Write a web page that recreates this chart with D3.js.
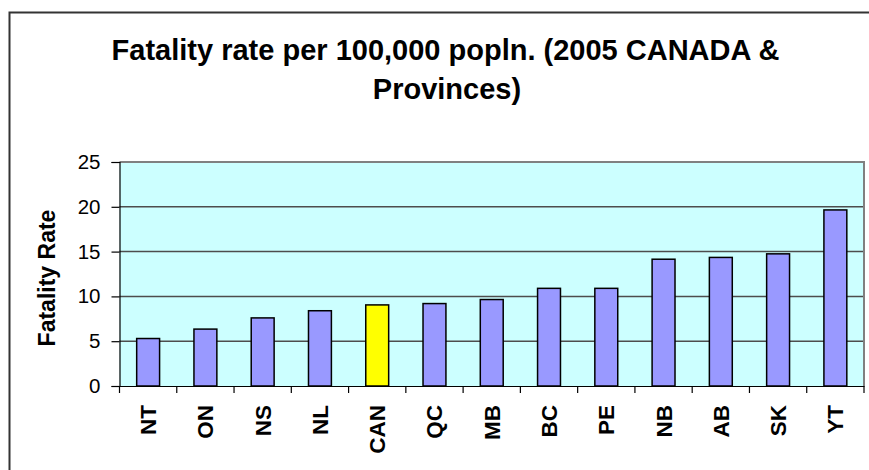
<!DOCTYPE html>
<html><head><meta charset="utf-8">
<script src="https://cdn.jsdelivr.net/npm/d3@7"></script>
<style>body{margin:0;background:#fff}svg{display:block}</style>
</head><body>
<svg id="c" width="869" height="470"></svg>
<script>
const categories = ["NT","ON","NS","NL","CAN","QC","MB","BC","PE","NB","AB","SK","YT"];
const values = [5.3, 6.35, 7.6, 8.4, 9.05, 9.2, 9.65, 10.9, 10.9, 14.15, 14.35, 14.75, 19.65];
const highlight = ["CAN"];
const yTicks = [0, 5, 10, 15, 20, 25];
const titleLines = ["Fatality rate per 100,000 popln. (2005 CANADA &", "Provinces)"];
const yTitle = "Fatality Rate";

const svg = d3.select("#c");
const font = "'Liberation Sans', Arial, sans-serif";
const L = 119.5, R = 864, T = 162, B = 386;

// outer chart border
svg.append("rect").attr("x", 9.5).attr("y", 12.5).attr("width", 900).attr("height", 500)
  .attr("fill", "#fff").attr("stroke", "#333").attr("stroke-width", 2);

const x = d3.scaleBand().domain(categories).range([L, R]).paddingInner(0.6).paddingOuter(0.3);
const xb = d3.scaleBand().domain(categories).range([L, R]);
const y = d3.scaleLinear().domain([0, 25]).range([B, T]);

// plot background
svg.append("rect").attr("x", L).attr("y", T).attr("width", R - L).attr("height", B - T).attr("fill", "#CCFFFF");

// gridlines
svg.append("g").selectAll("line").data(yTicks.filter(d => d > 0 && d < 25)).join("line")
  .attr("x1", L).attr("x2", R).attr("y1", d => y(d)).attr("y2", d => y(d))
  .attr("stroke", "#4d4d4d").attr("stroke-width", 1.5);

// plot border top/right
svg.append("path").attr("d", `M${L},${T}H${R}V${B}`).attr("fill", "none").attr("stroke", "#808080").attr("stroke-width", 2);

// bars
svg.append("g").selectAll("rect").data(categories).join("rect")
  .attr("x", d => x(d)).attr("width", x.bandwidth())
  .attr("y", (d, i) => y(values[i])).attr("height", (d, i) => B - y(values[i]))
  .attr("fill", d => highlight.includes(d) ? "#FFFF00" : "#9999FF")
  .attr("stroke", "#000").attr("stroke-width", 1.5);

// y axis
const ya = svg.append("g").attr("transform", `translate(${L},0)`)
  .call(d3.axisLeft(y).tickValues(yTicks).tickSize(8).tickPadding(11).tickFormat(d3.format("d")));
ya.select(".domain").attr("stroke", "#000").attr("stroke-width", 1.2);
ya.selectAll(".tick line").attr("stroke", "#000").attr("stroke-width", 1.2);
ya.selectAll("text").attr("font-family", font).attr("font-size", 20.5).attr("fill", "#000");

// x axis
const xa = svg.append("g").attr("transform", `translate(0,${B})`)
  .call(d3.axisBottom(xb).tickSize(0).tickFormat(""));
xa.select(".domain").attr("stroke", "#000").attr("stroke-width", 1.2);
svg.append("g").selectAll("line").data(d3.range(categories.length + 1)).join("line")
  .attr("x1", i => L + i * xb.step()).attr("x2", i => L + i * xb.step())
  .attr("y1", B).attr("y2", B + 7).attr("stroke", "#000").attr("stroke-width", 1.2);

svg.append("g").selectAll("text").data(categories).join("text")
  .attr("transform", d => `translate(${xb(d) + xb.bandwidth() / 2 + 8},${B + 19}) rotate(-90)`)
  .attr("text-anchor", "end").attr("font-family", font).attr("font-weight", "bold")
  .attr("font-size", 22.5).attr("fill", "#000").text(d => d);

// y title
svg.append("text").attr("transform", "translate(55,278) rotate(-90)")
  .attr("text-anchor", "middle").attr("font-family", font).attr("font-weight", "bold")
  .attr("font-size", 23).attr("fill", "#000").text(yTitle);

// title
svg.append("g").selectAll("text").data(titleLines).join("text")
  .attr("x", (d, i) => i === 0 ? 445.5 : 447).attr("y", (d, i) => 59.5 + i * 39)
  .attr("text-anchor", "middle").attr("font-family", font).attr("font-weight", "bold")
  .attr("font-size", 29).attr("fill", "#000").text(d => d);
</script>
</body></html>
